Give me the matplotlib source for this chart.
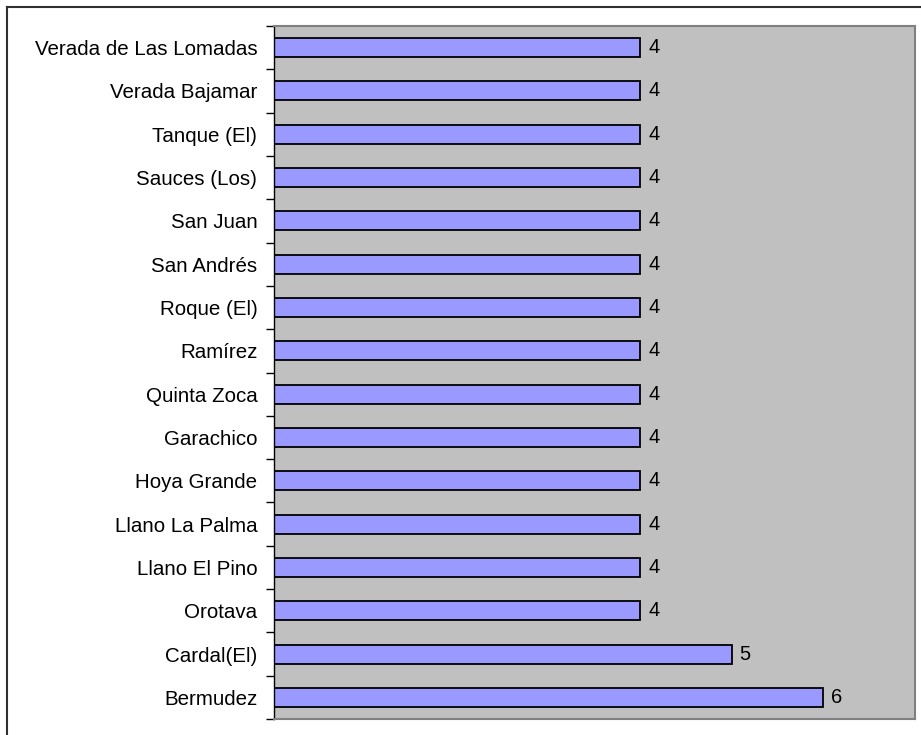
import matplotlib
matplotlib.use("Agg")
import matplotlib.pyplot as plt
from matplotlib.lines import Line2D
from matplotlib.ticker import FixedLocator

categories = ["Bermudez", "Cardal(El)", "Orotava", "Llano El Pino", "Llano La Palma",
              "Hoya Grande", "Garachico", "Quinta Zoca", "Ramírez", "Roque (El)",
              "San Andrés", "San Juan", "Sauces (Los)", "Tanque (El)",
              "Verada Bajamar", "Verada de Las Lomadas"]
values = [6, 5, 4, 4, 4, 4, 4, 4, 4, 4, 4, 4, 4, 4, 4, 4]

plt.rcParams['font.family'] = ['Liberation Sans', 'DejaVu Sans']

W, H = 921, 735
fig = plt.figure(figsize=(W / 100, H / 100), dpi=100)
fig.patch.set_facecolor("white")

left, right, top, bottom = 274, 915, 26, 719
ax = fig.add_axes([left / W, 1 - bottom / H, (right - left) / W, (bottom - top) / H])
ax.set_facecolor("#C0C0C0")

n = len(categories)
ys = list(range(n))
ax.barh(ys, values, height=0.44, color="#9999FF", edgecolor="black", linewidth=1.3)
for y, v in zip(ys, values):
    ax.text(v + 0.085, y, str(v), va="center", ha="left", fontsize=14.5, color="black")

ax.set_xlim(0, 7)
ax.set_ylim(-0.5, n - 0.5)
ax.set_xticks([])
ax.set_yticks(ys)
ax.set_yticklabels(categories, fontsize=14.8)
ax.tick_params(axis="y", which="major", length=0, pad=12)
ax.yaxis.set_minor_locator(FixedLocator([i - 0.5 for i in range(n + 1)]))
ax.tick_params(axis="y", which="minor", length=6, width=1, color="black")

for s in ["top", "right", "bottom"]:
    ax.spines[s].set_color("#808080")
    ax.spines[s].set_linewidth(1.5)
ax.spines["left"].set_color("black")
ax.spines["left"].set_linewidth(1)

# outer chart border
fig.add_artist(Line2D([6.5 / W, 1.0], [1 - 6.5 / H, 1 - 6.5 / H], transform=fig.transFigure,
                      color="#303030", linewidth=1.5))
fig.add_artist(Line2D([6.5 / W, 6.5 / W], [0.0, 1 - 6.5 / H], transform=fig.transFigure,
                      color="#303030", linewidth=1.5))

fig.savefig("out.png", dpi=100)
